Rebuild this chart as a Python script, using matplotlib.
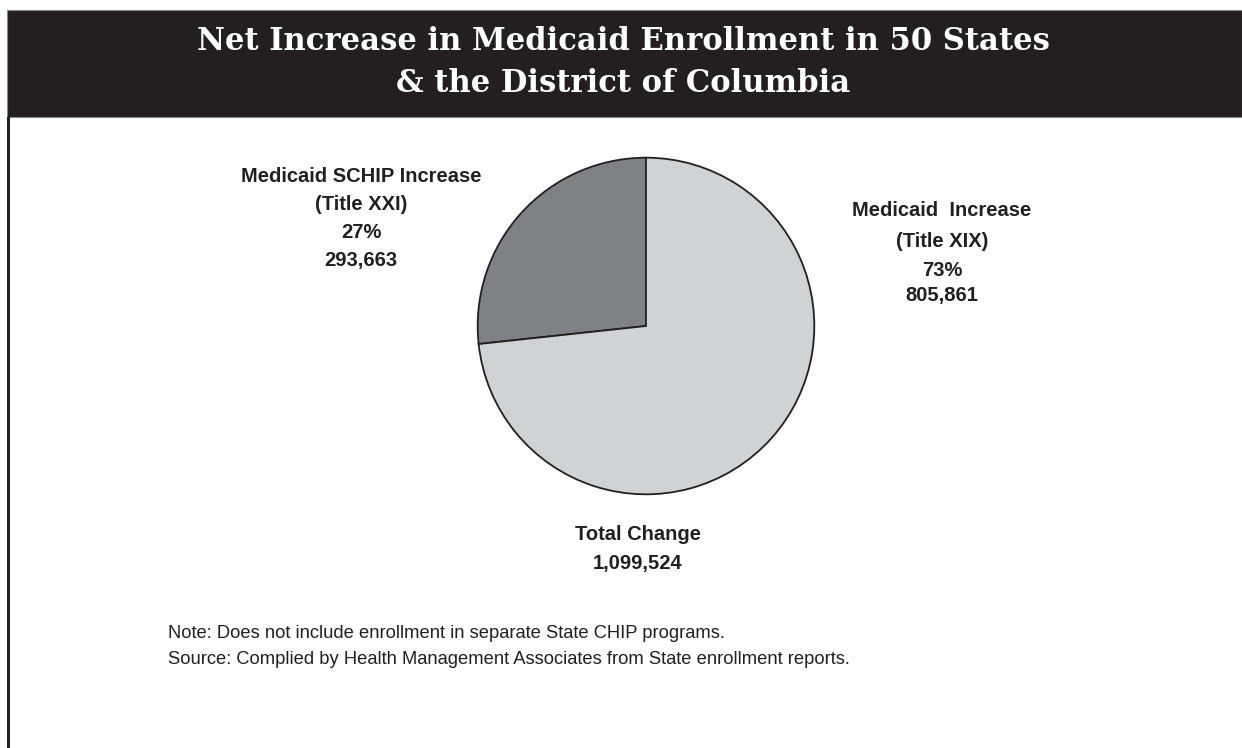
import matplotlib.pyplot as plt
from matplotlib.patches import Rectangle

# Data
labels = ["Medicaid SCHIP Increase\n(Title XXI)", "Medicaid  Increase\n(Title XIX)"]
values = [293663, 805861]
percents = ["27%", "73%"]
total = 1099524
colors = ["#808184", "#d1d2d4"]

W, H = 1242, 748
fig = plt.figure(figsize=(W / 100, H / 100), dpi=100)
fig.patch.set_facecolor("white")


def fx(x):
    return x / W


def fy(y):
    return 1 - y / H


# Header band and left rule
fig.patches.append(Rectangle((fx(7), fy(117)), fx(W) - fx(7), fy(10) - fy(117),
                             transform=fig.transFigure, facecolor="#231f20",
                             edgecolor="#888888", linewidth=0.8, zorder=0))
fig.patches.append(Rectangle((fx(7), 0), fx(3), fy(117),
                             transform=fig.transFigure, facecolor="#231f20",
                             edgecolor="none", zorder=0))

title_font = dict(family="DejaVu Serif", weight="bold", color="white", fontsize=22.1)
fig.text(fx(623), fy(42), "Net Increase in Medicaid Enrollment in 50 States",
         ha="center", va="center", **title_font)
fig.text(fx(623), fy(84), "& the District of Columbia",
         ha="center", va="center", **title_font)

# Pie
ax = fig.add_axes([fx(476), fy(496), fx(340), 340 / H])
ax.pie(values, colors=colors, startangle=90, counterclock=True,
       wedgeprops=dict(edgecolor="#231f20", linewidth=1.3))
ax.set_xlim(-1.01, 1.01)
ax.set_ylim(-1.01, 1.01)
ax.set_aspect("equal")
ax.axis("off")

lab_font = dict(family="Liberation Sans", weight="bold", color="#231f20",
                fontsize=14.5, ha="center", va="center")

# left label
left_lines = labels[0].split("\n") + [percents[0], f"{values[0]:,}"]
for t, y in zip(left_lines, [177, 205, 232, 260]):
    fig.text(fx(361), fy(y), t, **lab_font)

# right label
right_lines = labels[1].split("\n") + [percents[1], f"{values[1]:,}"]
for t, y in zip(right_lines, [211, 242, 270, 296]):
    fig.text(fx(942), fy(y), t, **lab_font)

# total
fig.text(fx(638), fy(535), "Total Change", **lab_font)
fig.text(fx(638), fy(563), f"{total:,}", **lab_font)

note_font = dict(family="Liberation Sans", color="#231f20", fontsize=13.2,
                 ha="left", va="center")
fig.text(fx(168), fy(633), "Note: Does not include enrollment in separate State CHIP programs.",
         **note_font)
fig.text(fx(168), fy(660),
         "Source: Complied by Health Management Associates from State enrollment reports.",
         **note_font)

fig.savefig("out.png", dpi=100)
